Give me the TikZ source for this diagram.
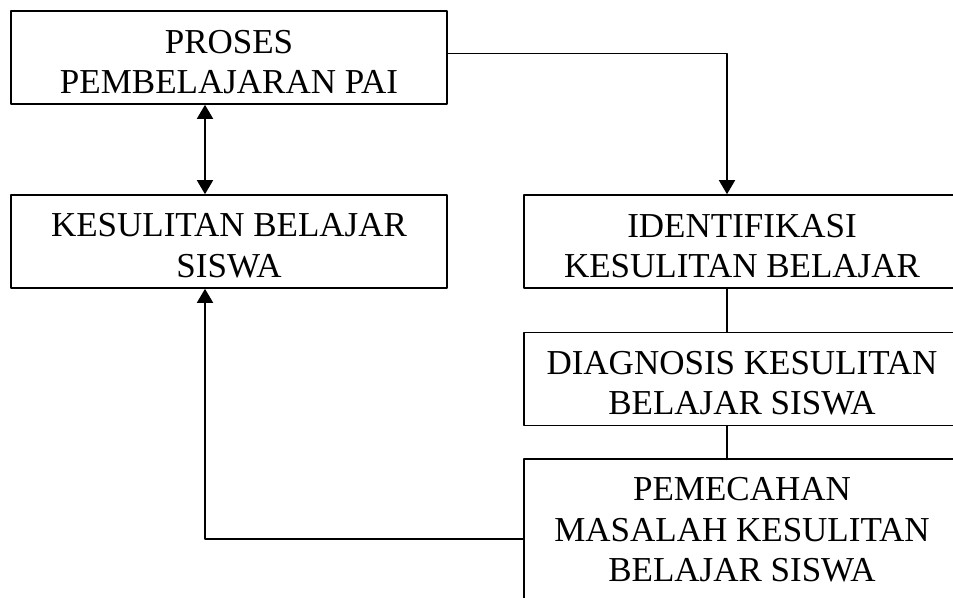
\documentclass[tikz,border=0pt]{standalone}
\usepackage{fontspec}
\setmainfont{Liberation Serif}
\usetikzlibrary{arrows.meta,positioning}
\newcommand{\tinggi}{\rule{0pt}{32pt}}

\begin{document}
\begin{tikzpicture}[line cap=round,line join=round,x=1pt,y=1pt,
  >={Triangle[width=16pt,length=14pt]},
  kotak/.style={draw, line width=1.6pt, minimum width=436pt, minimum height=93pt,
    align=center, inner sep=0pt, font=\fontsize{35}{40.5}\selectfont},
  garis/.style={line width=1.6pt}]
\useasboundingbox (0,0) rectangle (953,-597);
\node[kotak] (b1) at (229,-57.5) {\tinggi PROSES\\PEMBELAJARAN PAI};
\node[kotak] (b2) at (229,-241.5) {\tinggi KESULITAN BELAJAR\\SISWA};
\node[kotak] (b3) at (742,-241.5) {\tinggi IDENTIFIKASI\\KESULITAN BELAJAR};
\node[kotak] (b4) at (742,-379) {\tinggi DIAGNOSIS KESULITAN\\BELAJAR SISWA};
\node[kotak, minimum height=142pt] (b5) at (742,-530) {PEMECAHAN\\MASALAH KESULITAN\\BELAJAR SISWA};
% panah
\draw[garis, <->] ([xshift=-24pt]b1.south) -- ([xshift=-24pt]b2.north);
\draw[garis, ->] ([yshift=4pt]b1.east) -| ([xshift=-15pt]b3.north);
\draw[garis] ([xshift=-15pt]b3.south) -- ([xshift=-15pt]b4.north);
\draw[garis] ([xshift=-15pt]b4.south) -- ([xshift=-15pt]b5.north);
\draw[garis, ->] ([yshift=-9pt]b5.west) -| ([xshift=-24pt]b2.south);
\end{tikzpicture}
\end{document}
